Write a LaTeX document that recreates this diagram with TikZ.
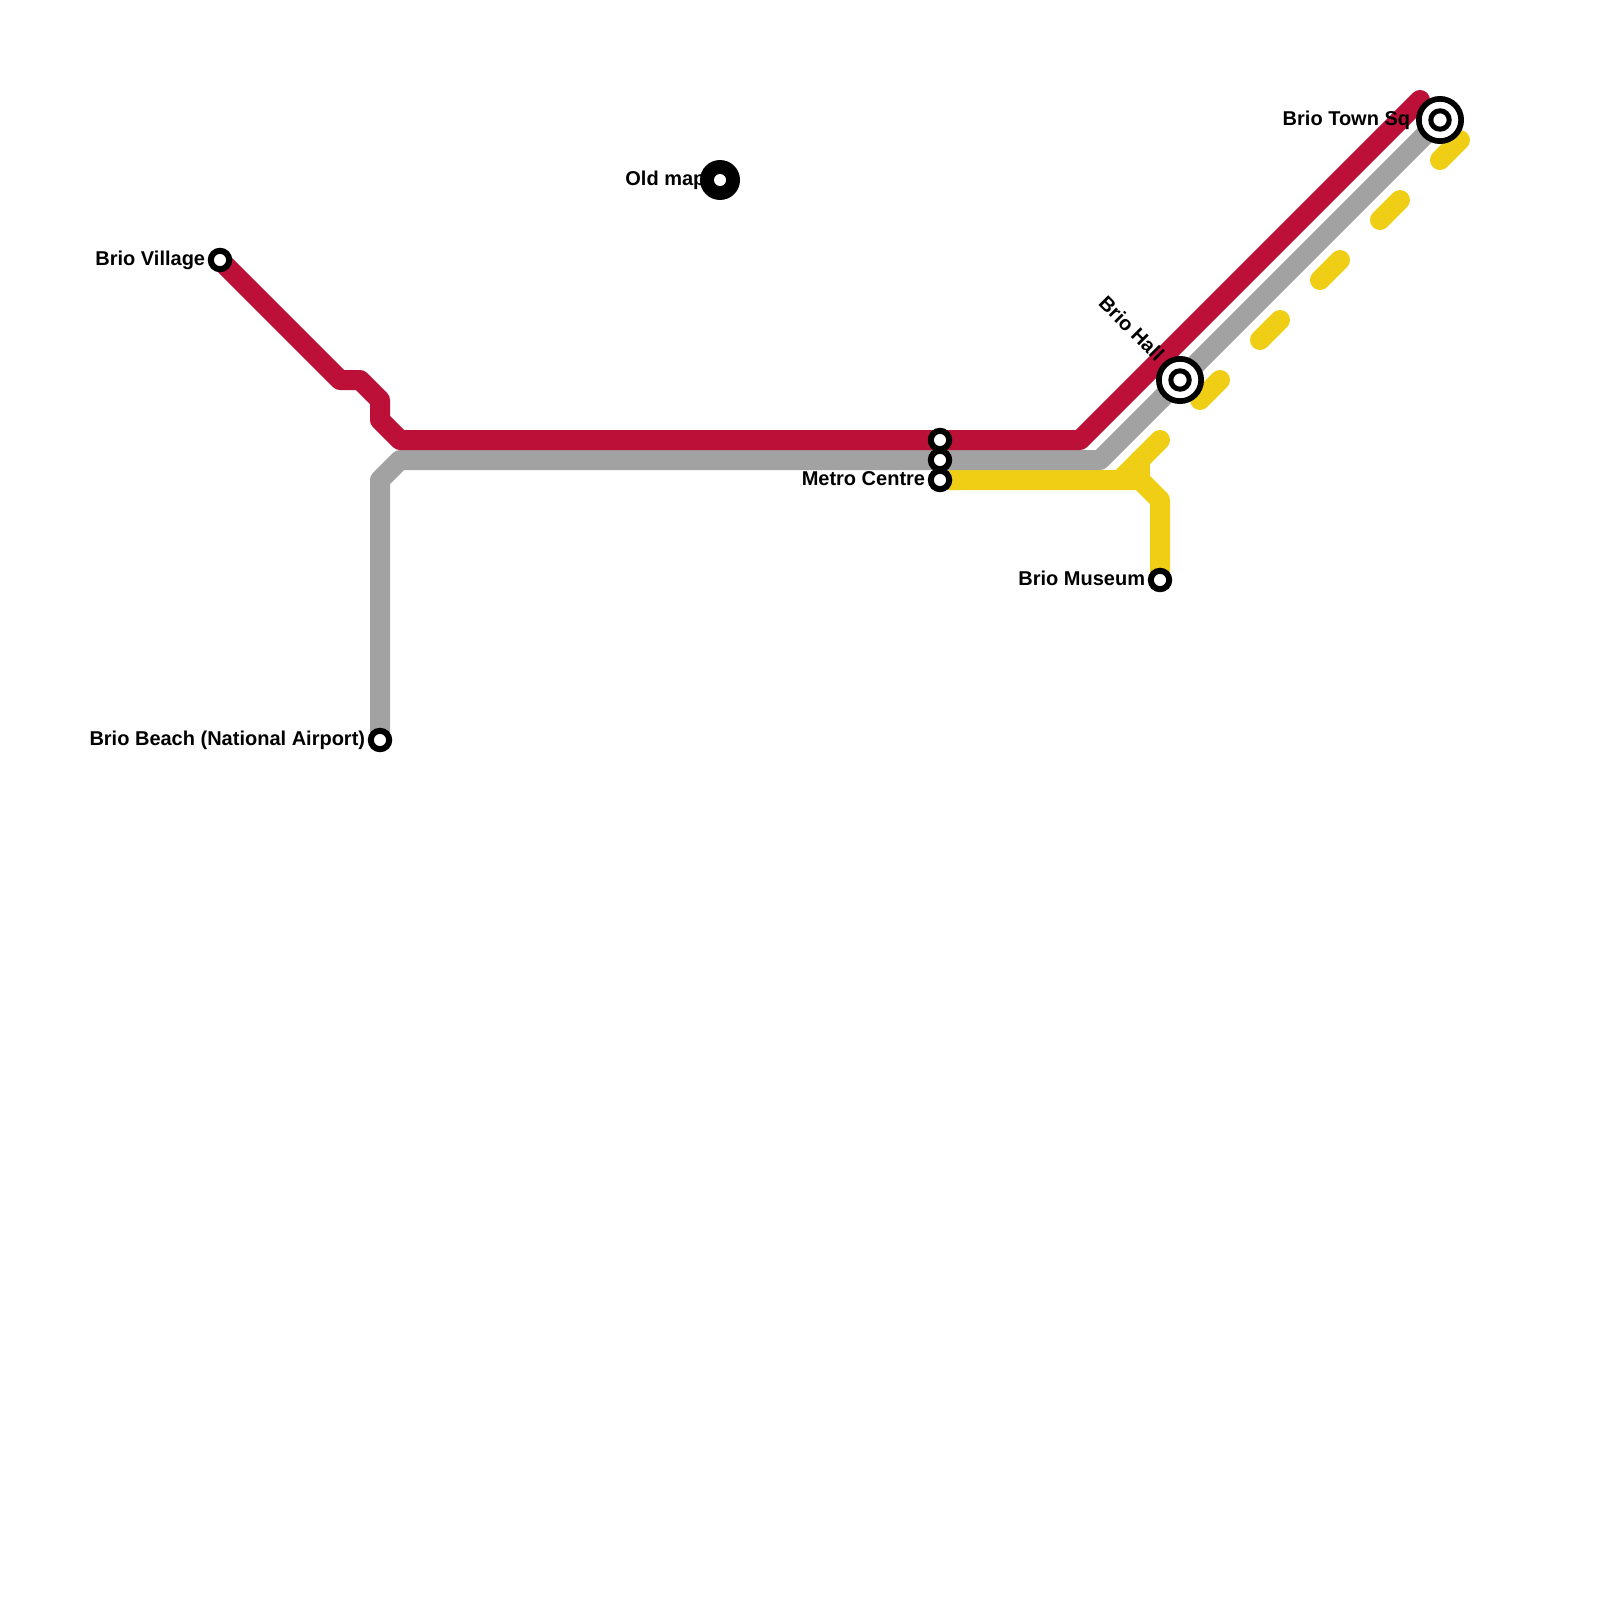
\documentclass[tikz,border=0pt]{standalone}
\usepackage{fontspec}
\setmainfont{Liberation Sans}
\tikzset{
  line/.style={line width=10pt,line cap=round,line join=round},
  redline/.style={line,draw=lred},
  grayline/.style={line,draw=lgray},
  yellowline/.style={line,draw=lyellow},
  yellowdash/.style={yellowline,dash pattern=on 14.14pt off 28.28pt},
  lbl/.style={inner sep=0pt,font=\bfseries\fontsize{10pt}{12pt}\selectfont,text=black},
  smallstn/.style={circle,draw=black,fill=white,line width=3pt,minimum size=9.2pt,inner sep=0pt},
  bigstn/.style={circle,draw=black,fill=white,line width=2.85pt,minimum size=21.15pt,inner sep=0pt},
  holestn/.style={circle,draw=black,fill=white,line width=2.5pt,minimum size=9.2pt,inner sep=0pt},
  oldstn/.style={circle,fill=black,minimum size=20pt,inner sep=0pt},
  oldhole/.style={circle,fill=white,minimum size=6pt,inner sep=0pt},
}
\definecolor{lred}{HTML}{BD1038}
\definecolor{lgray}{HTML}{A2A2A2}
\definecolor{lyellow}{HTML}{F0CE15}
\begin{document}
\begin{tikzpicture}[x=0.5pt,y=-0.5pt]
\useasboundingbox (0,0) rectangle (1600,1600);
% route points
\coordinate (r1) at (340,380);
\coordinate (r2) at (360,380);
\coordinate (r3) at (380,400);
\coordinate (r4) at (380,420);
\coordinate (r5) at (400,440);
\coordinate (r6) at (1080,440);
\coordinate (r7) at (1420,100);
\coordinate (g1) at (380,480);
\coordinate (g2) at (400,460);
\coordinate (g3) at (1100,460);
\coordinate (y1) at (1140,480);
\coordinate (y2) at (1160,500);
\coordinate (y3) at (1120,480);
\coordinate (y4) at (1160,440);
\coordinate (y5) at (1140,460);
\coordinate (d2) at (1200,400);
\coordinate (d3) at (1460,140);
% station positions
\coordinate (pvillage) at (220,260);
\coordinate (pbeach) at (380,740);
\coordinate (pred) at (940,440);
\coordinate (pgray) at (940,460);
\coordinate (pmetro) at (940,480);
\coordinate (pmuseum) at (1160,580);
\coordinate (phall) at (1180,380);
\coordinate (ptown) at (1440,120);
\coordinate (pold) at (720,180);
% lines
\draw[yellowline] (pmetro) -- (y3) -- (y1) -- (y2) -- (pmuseum);
\draw[yellowline] (y3) -- (y4);
\draw[yellowline] (y1) -- (y5);
\draw[yellowdash] (d2) -- (d3);
\draw[grayline] (pbeach) -- (g1) -- (g2) -- (g3) -- (ptown);
\draw[redline] (pvillage) -- (r1) -- (r2) -- (r3) -- (r4) -- (r5) -- (r6) -- (r7);
% labels
\node[lbl,anchor=base east] (lvillage) at (205.5,265.5) {Brio Village};
\node[lbl,anchor=base east] (lbeach) at (365.5,745.5) {Brio Beach (National Airport)};
\node[lbl,anchor=base east] (lmetro) at (925.5,485.5) {Metro Centre};
\node[lbl,anchor=base east] (lmuseum) at (1145.5,585.5) {Brio Museum};
\node[lbl,anchor=base east] (ltown) at (1410.5,125.5) {Brio Town Sq};
\node[lbl,anchor=base west] (lold) at (625,185.5) {Old map};
\node[lbl,anchor=base east,rotate=-45] (lhall) at (1156,363) {Brio Hall};
% stations
\node[smallstn] (svillage) at (pvillage) {};
\node[smallstn] (sbeach) at (pbeach) {};
\node[smallstn] (sred) at (pred) {};
\node[smallstn] (sgray) at (pgray) {};
\node[smallstn] (smetro) at (pmetro) {};
\node[smallstn] (smuseum) at (pmuseum) {};
\node[bigstn] (shall) at (phall) {};
\node[holestn] (shallin) at (phall) {};
\node[bigstn] (stown) at (ptown) {};
\node[holestn] (stownin) at (ptown) {};
\node[oldstn] (sold) at (pold) {};
\node[oldhole] (soldin) at (pold) {};
\end{tikzpicture}
\end{document}
